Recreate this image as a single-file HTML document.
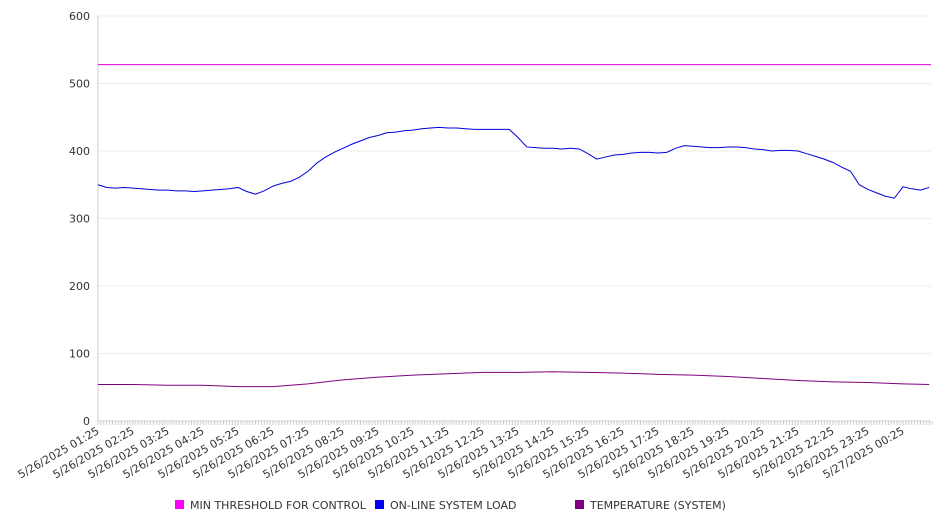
<!DOCTYPE html>
<html><head><meta charset="utf-8"><style>
body{margin:0;background:#fff;font-family:"DejaVu Sans","Liberation Sans",sans-serif;}
svg text{font-family:"DejaVu Sans","Liberation Sans",sans-serif;font-size:11px;fill:#333;}
</style></head><body>
<svg id="chart" width="946" height="526"></svg>
<script>
const tickLabels=["5/26/2025 01:25","5/26/2025 02:25","5/26/2025 03:25","5/26/2025 04:25","5/26/2025 05:25","5/26/2025 06:25","5/26/2025 07:25","5/26/2025 08:25","5/26/2025 09:25","5/26/2025 10:25","5/26/2025 11:25","5/26/2025 12:25","5/26/2025 13:25","5/26/2025 14:25","5/26/2025 15:25","5/26/2025 16:25","5/26/2025 17:25","5/26/2025 18:25","5/26/2025 19:25","5/26/2025 20:25","5/26/2025 21:25","5/26/2025 22:25","5/26/2025 23:25","5/27/2025 00:25"];
const yTicks=[0,100,200,300,400,500,600];
// load: every 15 minutes starting 01:25
const loadValues=[350,346,345,346,345,344,343,342,342,341,341,340,341,342,343,344,346,340,336,341,348,352,355,361,370,382,391,398,404,410,415,420,423,427,428,430,431,433,434,435,434,434,433,432,432,432,432,432,420,406,405,404,404,403,404,403,396,388,391,394,395,397,398,398,397,398,404,408,407,406,405,405,406,406,405,403,402,400,401,401,400,396,392,388,383,376,370,350,343,338,333,330,347,344,342,346];
// temperature: hourly from 01:25, last point 01:10
const tempValues=[54,54,53,53,51,51,55,61,65,68,70,72,72,73,72,71,69,68,66,63,60,58,57,55,54];
const thresholdValue=528;
const NS="http://www.w3.org/2000/svg";
const svg=document.getElementById('chart');
const X0=98,X1=931,Y0=421,Y1=16,PXH=35;
const xq=i=>X0+i*PXH/4; // quarter-hour index
const y=v=>Y0-(v/600)*(Y0-Y1);
function mk(t,a){const e=document.createElementNS(NS,t);for(const k in a)e.setAttribute(k,a[k]);svg.appendChild(e);return e;}
yTicks.forEach(v=>{
 const g=mk('line',{x1:X0,x2:X1,y1:y(v),y2:y(v),stroke:v===0?'#ccc':'#ececec'});
 
 
 const t=mk('text',{x:90,y:y(v)+4,'text-anchor':'end'});t.textContent=v;
 
 
});
const ax=mk('line',{x1:X0,x2:X0,y1:Y1,y2:Y0,stroke:'#ccc'});


for(let m=0;m<=286;m++){const xx=X0+m*PXH/12;const tk=mk('line',{x1:xx,x2:xx,y1:Y0,y2:Y0+4,stroke:'#ccc'});
 
 }
tickLabels.forEach((s,i)=>{const xx=X0+i*PXH;
 const t=mk('text',{x:xx+2,y:Y0+12,'text-anchor':'end',transform:`rotate(-30 ${xx+2} ${Y0+12})`});t.textContent=s;
 
 });
const th=mk('line',{x1:X0,x2:X1,y1:y(thresholdValue),y2:y(thresholdValue),stroke:'#e000e0','stroke-width':1});


const lp=mk('polyline',{points:loadValues.map((v,i)=>xq(i)+','+y(v)).join(' '),fill:'none',stroke:'#0000dd','stroke-width':1});


const tp=mk('polyline',{points:tempValues.map((v,i)=>xq(Math.min(i*4,95))+','+y(v)).join(' '),fill:'none',stroke:'#800080','stroke-width':1});


[['MIN THRESHOLD FOR CONTROL','#ff00ff',175],['ON-LINE SYSTEM LOAD','#0000ff',375],['TEMPERATURE (SYSTEM)','#800080',575]].forEach(([n,c,x])=>{
 const r=mk('rect',{x:x,y:500,width:9,height:9,fill:c});
 
 
 const t=mk('text',{x:x+15,y:509});t.textContent=n;
 
 
});
</script>
</body></html>
